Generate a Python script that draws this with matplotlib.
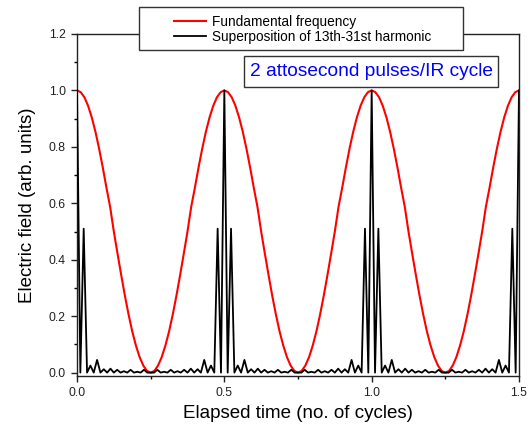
import numpy as np
import matplotlib
matplotlib.use("Agg")
import matplotlib.pyplot as plt
from matplotlib.patches import Rectangle

W, H, DPI = 529, 428, 100

# ----- data -----
# one quarter of an IR half-cycle (peak -> minimum), repeated by symmetry
RED_STEP = 0.0125
red_quarter = [1.0, 0.994, 0.976, 0.946, 0.905, 0.854, 0.794, 0.727, 0.655, 0.587,
               0.5, 0.422, 0.346, 0.273, 0.206, 0.146, 0.096, 0.055, 0.025, 0.006, 0.0]

BLACK_STEP = 1.0 / 88
black_quarter = [1.0, 0.0, 0.51, 0.0, 0.025, 0.0, 0.045, 0.0, 0.012, 0.0, 0.014, 0.0,
                 0.010, 0.0, 0.005, 0.0, 0.010, 0.0, 0.003, 0.0, 0.010, 0.0, 0.0]

n_half_cycles = 3
x_ticks = [0.0, 0.5, 1.0, 1.5]
y_ticks = [0.0, 0.2, 0.4, 0.6, 0.8, 1.0, 1.2]

legend_labels = ["Fundamental frequency", "Superposition of 13th-31st harmonic"]
note_text = "2 attosecond pulses/IR cycle"
x_label = "Elapsed time (no. of cycles)"
y_label = "Electric field (arb. units)"


def periodic_series(quarter, step, n_half):
    # mirror the quarter into a half-cycle, then repeat it
    q = np.asarray(quarter, dtype=float)
    half = np.concatenate([q, q[::-1][1:]])
    y = np.concatenate([np.tile(half[:-1], n_half), half[-1:]])
    x = np.arange(len(y)) * step
    return x, y


def px(x0, y0):
    # pixel (from top-left) -> figure fraction
    return x0 / W, 1 - y0 / H


def box(fig, x0, y0, x1, y1, z):
    # white box with dark edge, given in pixels from top-left
    fx, fy = px(x0, y1)
    fig.add_artist(Rectangle((fx, fy), (x1 - x0) / W, (y1 - y0) / H,
                             transform=fig.transFigure, facecolor="white",
                             edgecolor="#333333", lw=1.0, zorder=z))


def main():
    plt.rcParams["font.family"] = ["Liberation Sans", "DejaVu Sans"]

    fig = plt.figure(figsize=(W / DPI, H / DPI), dpi=DPI, facecolor="white")
    ax = fig.add_axes([77 / W, 1 - 376 / H, (519 - 77) / W, (376 - 34) / H])

    xr, yr = periodic_series(red_quarter, RED_STEP, n_half_cycles)
    xb, yb = periodic_series(black_quarter, BLACK_STEP, n_half_cycles)

    l1, = ax.plot(xr, yr, color="#ff0000", lw=1.5, zorder=2)
    l2, = ax.plot(xb, yb, color="black", lw=1.3, zorder=3)

    ax.set_xlim(0, 1.5)
    ax.set_ylim(-0.012, 1.2)
    ax.set_xticks(x_ticks)
    ax.set_xticklabels([f"{v:.1f}" for v in x_ticks])
    ax.set_yticks(y_ticks)
    ax.set_yticklabels([f"{v:.1f}" for v in y_ticks])
    ax.set_xticks(np.arange(0.25, 1.5, 0.5), minor=True)
    ax.set_yticks(np.arange(0.1, 1.2, 0.2), minor=True)
    ax.tick_params(which="major", direction="out", length=4, width=1,
                   labelsize=8.8, pad=4, colors="#222222")
    ax.tick_params(which="minor", direction="out", length=2.5, width=1)
    for s in ax.spines.values():
        s.set_linewidth(1.0)
        s.set_color("#222222")

    fig.text(28 / W, 1 - 205 / H, y_label, rotation=90, fontsize=13.5,
             ha="center", va="center")
    fig.text(298 / W, 1 - 414 / H, x_label, fontsize=13.5, ha="center", va="center")

    # ----- legend box (drawn over the top spine) -----
    box(fig, 139, 7, 463, 50, 4)
    leg = fig.legend([l1, l2], legend_labels, loc="upper left",
                     bbox_to_anchor=px(165, 6), frameon=False, fontsize=9.8,
                     handlelength=2.35, handletextpad=0.45, labelspacing=0.05,
                     borderpad=0.15)
    leg.set_zorder(5)

    # ----- annotation box -----
    box(fig, 244, 56, 498, 87, 6)
    tx, ty = px(371, 71)
    fig.text(tx, ty, note_text, color="#0000ff", fontsize=13.8, ha="center",
             va="center", zorder=7)

    fig.savefig("out.png", dpi=DPI, facecolor=fig.get_facecolor())
    plt.close(fig)


if __name__ == "__main__":
    main()
